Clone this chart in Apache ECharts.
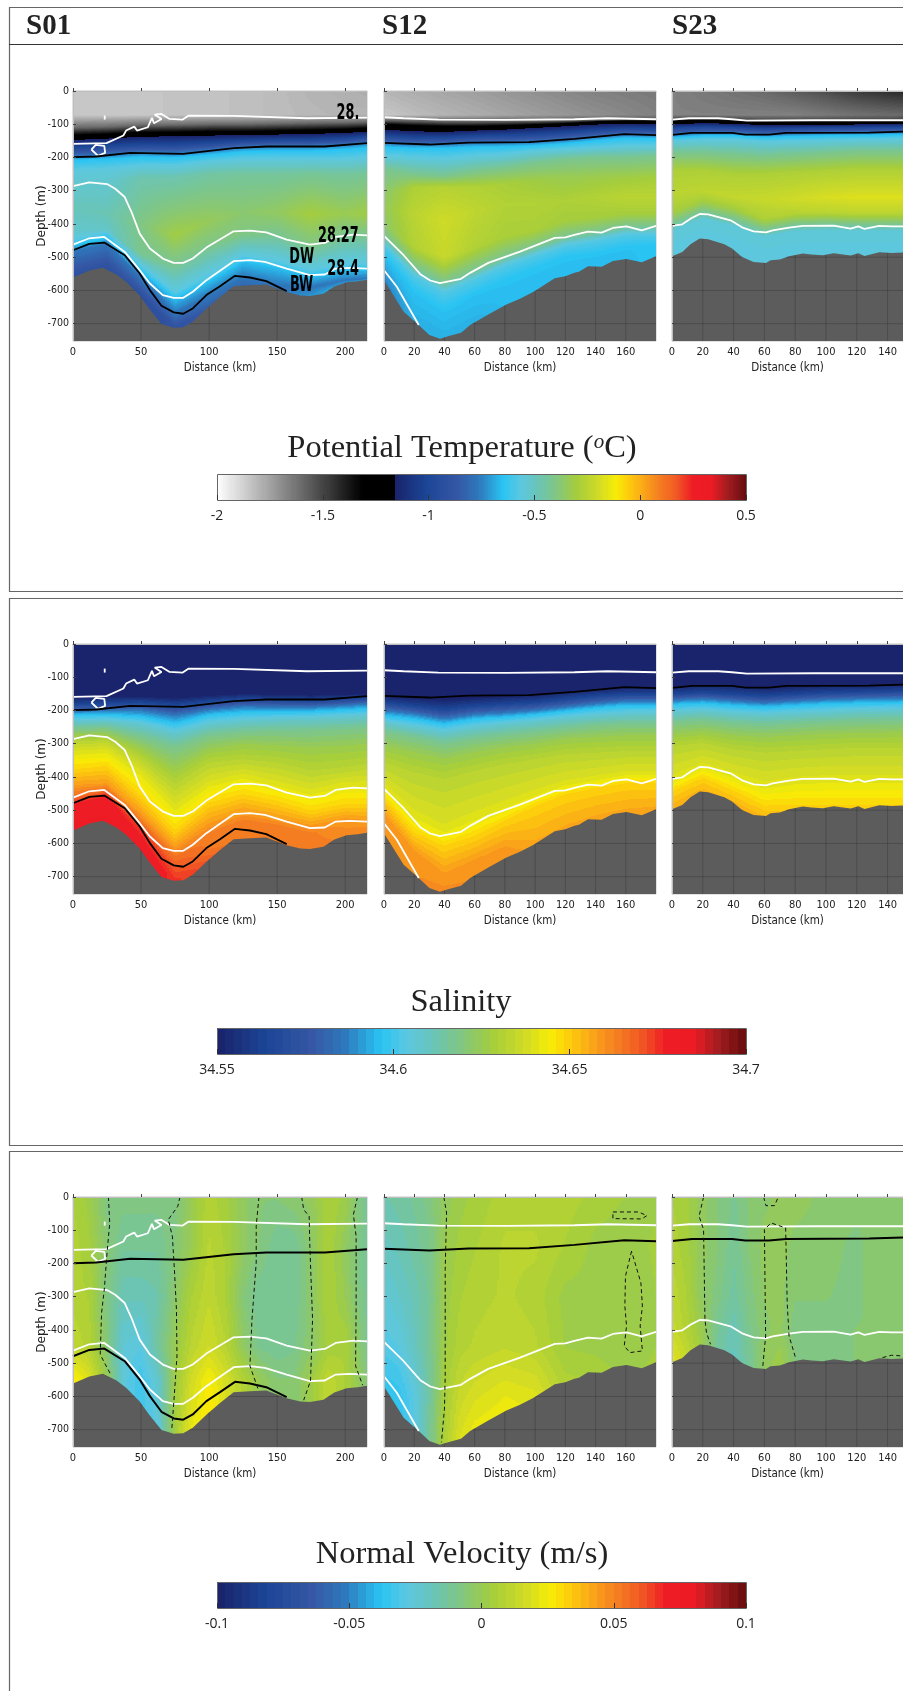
<!DOCTYPE html>
<html><head><meta charset="utf-8"><style>html,body{margin:0;padding:0;background:#fff}#c{width:903px;height:1691px}</style>
<script src="https://cdn.jsdelivr.net/npm/echarts@6/dist/echarts.min.js"></script></head><body><div id="c"></div>
<script>
// ---------- section names and axes ----------
const sectionNames=['S01','S12','S23'];
const S01_ticksX=[0,50,100,150,200];
const S12_ticksX=[0,20,40,60,80,100,120,140,160];
const S23_ticksX=[0,20,40,60,80,100,120,140];
const depthTicks=[0,-100,-200,-300,-400,-500,-600,-700];
const tempTicks=[-2,-1.5,-1,-0.5,0,0.5];
const salTicks=[34.55,34.6,34.65,34.7];
const velTicks=[-0.1,-0.05,0,0.05,0.1];

// ---------- sea floor (km, depth) ----------
const S01_bathy=[[0,-561],[12,-540],[22,-532],[32,-552],[39,-574],[49,-615],[56,-655],[65,-701],[74,-712],[81,-711],[88,-694],[98,-655],[108,-620],[118,-587],[130,-584],[142,-582],[157,-605],[167,-615],[174,-617],[184,-610],[192,-588],[201,-575],[209,-572],[216,-568]];
const S12_bathy=[[0,-569],[13,-664],[23,-704],[30,-734],[37,-745],[43,-737],[51,-727],[57,-704],[69,-672],[81,-642],[90,-625],[99,-604],[113,-563],[120,-557],[126,-547],[129,-544],[135,-527],[144,-529],[151.5,-511],[160.5,-505],[170.6,-515],[180,-497]];
const S23_bathy=[[0,-497],[6.7,-484],[12,-461],[18,-444],[23.5,-446],[34,-461],[39,-474],[45.5,-499],[53,-514],[61,-517],[64,-509],[70,-507],[76,-497],[85,-489],[90.5,-492],[98,-494],[105,-488],[116,-495],[121,-488],[125,-496],[134.6,-485],[142.6,-487],[150,-486]];

// ---------- density contours (km, depth) ----------
const S01_white=[
 [[0,-159],[24.6,-157],[37,-134],[39,-119],[45,-107],[47,-119],[55,-109],[58,-81],[59.5,-97],[65,-84],[60,-71],[65,-69],[71,-84],[80.6,-86],[85,-74],[118,-75],[172,-82],[216,-80]],
 [[13.5,-176],[16.7,-162],[23,-165],[23.6,-186],[18.4,-195],[13.5,-176]],
 [[23.3,-74],[23.3,-86]],
 [[0,-286],[12,-275],[25,-280],[31,-294],[38,-319],[43,-364],[49,-429],[56.5,-474],[66,-504],[74,-517],[81,-517],[88,-504],[98,-471],[118,-422],[130,-420],[142,-425],[157,-447],[174,-462],[185,-457],[193,-439],[206,-432],[216,-434]],
 [[0,-462],[12,-443],[23,-439],[38,-484],[49,-539],[56.5,-579],[66,-614],[74,-622],[81,-622],[88,-604],[98,-569],[118,-512],[130,-509],[141,-514],[157,-534],[174,-554],[185,-552],[193,-534],[203,-532],[216,-534]]
];
const S01_black=[
 [[0,-199],[17,-197],[42,-186],[81,-189],[118,-172],[142,-167],[185,-167],[216,-157]],
 [[0,-479],[12,-460],[23,-456],[38,-494],[49,-549],[56.5,-599],[65,-646],[74,-666],[81,-670],[88,-654],[98,-614],[108,-587],[119,-556],[130,-561],[142,-572],[157,-602]]
];
const S12_white=[
 [[0,-79],[13,-82],[36,-86],[81,-87],[126,-85],[148,-82],[180,-85]],
 [[0,-436],[13,-494],[24,-551],[30.6,-570],[37,-578],[51,-565],[57,-547],[69,-517],[90,-483],[113,-442],[120,-440],[126,-433],[135,-423],[144,-426],[151.5,-412],[160.5,-407],[170.6,-419],[180,-406]],
 [[0,-539],[8.5,-589],[23,-704]]
];
const S12_black=[
 [[0,-156],[30,-161],[56,-155],[96,-154],[126,-144],[159,-130],[180,-133]]
];
const S23_white=[
 [[0,-86],[11,-82],[30,-82],[39,-85],[48.6,-89],[92.6,-88],[150,-88]],
 [[0,-406],[6.7,-401],[12,-384],[18,-370],[23.5,-371],[38,-389],[45.5,-410],[53,-422],[61,-425],[65.4,-419],[76,-411],[85,-406],[105,-405],[116,-414],[121,-407],[125,-415],[134.6,-406],[142.6,-407],[150,-407]]
];
const S23_black=[
 [[0,-132],[13,-126],[39,-126],[47.6,-131],[63,-131],[74,-126],[128,-125],[150,-122]]
];

// ---------- zero velocity contours (km, depth) ----------
const S01_zero=[
 [[26,0],[27,-78],[25,-168],[23,-278],[21,-348],[20,-473],[23,-498],[28,-536]],
 [[78.6,0],[77,-28],[70,-68],[73,-118],[74.5,-218],[76,-338],[76.4,-478],[74.4,-598],[72.5,-703]],
 [[136.6,0],[134.6,-88],[134.6,-198],[131.5,-368],[130,-508],[136,-578]],
 [[168,0],[169.5,-38],[173.5,-58],[174,-148],[176,-368],[174.5,-553],[169.5,-611]],
 [[209,0],[206,-53],[208,-118],[208,-338],[207.6,-508],[212.8,-566]]
];
const S12_zero=[
 [[39.6,0],[41.4,-48],[40.5,-218],[40.5,-538],[40,-638],[38,-738]],
 [[151.5,-45],[168.4,-45],[174,-56],[170.6,-66],[151.5,-65],[151.5,-45]],
 [[163.8,-163],[159.8,-238],[159.4,-328],[160.5,-388],[159,-448],[162.7,-468],[171,-463],[169.5,-388],[171,-328],[170,-258],[163.8,-163]]
];
const S23_zero=[
 [[20.5,0],[17.6,-58],[20.5,-98],[21.4,-368],[22.4,-408],[25,-443]],
 [[59.5,0],[61,-26],[66.6,-26],[69,0]],
 [[59,-508],[60.8,-418],[60,-98],[64.3,-78],[73.8,-93],[74.8,-318],[76,-418],[80.5,-488]],
 [[136.7,-483],[142.6,-476],[149,-478]]
];

// ---------- annotations (km, depth, text) ----------
const S01_notes=[[202,-68,'28.'],[195,-437,'28.27'],[168,-500,'DW'],[198.5,-537,'28.4'],[168,-585,'BW']];

// ---------- stations ----------
const S01_stations=[0,25,50,75,100,125,150,175,200,216];
const S12_stations=[0,20,40,60,80,100,120,140,160,180];
const S23_stations=[0,20,40,60,80,100,120,150];

// ---------- potential temperature: knot depth per station, and value at the knot ----------
const S01_T_depth=[
 [0,0,0,0,0,0,0,0,0,0],
 [-72,-72,-72,-72,-72,-72,-72,-72,-72,-72],
 [-110,-108,-103,-102,-100,-100,-98,-96,-95,-93],
 [-133,-130,-125,-124,-122,-122,-120,-118,-115,-112],
 [-146,-142,-136,-135,-133,-131,-130,-128,-125,-122],
 [-170,-165,-160,-160,-155,-150,-147,-147,-143,-137],
 [-197,-192,-185,-187,-179,-168,-165,-165,-161,-155],
 [-208,-204,-198,-200,-192,-182,-180,-180,-175,-170],
 [-240,-235,-225,-225,-212,-205,-205,-205,-205,-200],
 [-270,-270,-260,-260,-250,-250,-250,-250,-250,-250],
 [-350,-370,-400,-435,-390,-365,-365,-370,-370,-370],
 [-420,-420,-490,-530,-460,-430,-430,-465,-440,-440],
 [-447,-424,-525,-607,-555,-495,-512,-540,-520,-520],
 [-467,-444,-545,-627,-575,-515,-532,-560,-540,-540],
 [-482,-458,-560,-668,-615,-560,-585,-590,-570,-565],
 [-560,-535,-615,-712,-655,-585,-600,-617,-580,-568]
];
const S01_T_values=[
 [-1.85,-1.85,-1.85,-1.84,-1.84,-1.83,-1.82,-1.8,-1.79,-1.78],
 [-1.85,-1.85,-1.85,-1.84,-1.84,-1.83,-1.82,-1.81,-1.8,-1.8],
 -1.6,-1.31,-1.17,-1.0,-0.77,-0.65,-0.56,
 [-0.53,-0.53,-0.47,-0.47,-0.45,-0.44,-0.44,-0.43,-0.44,-0.43],
 [-0.49,-0.48,-0.40,-0.31,-0.34,-0.37,-0.35,-0.30,-0.33,-0.31],
 [-0.52,-0.52,-0.42,-0.43,-0.40,-0.40,-0.42,-0.40,-0.43,-0.43],
 -0.57,-0.66,-0.77,
 [-0.92,-0.92,-0.92,-0.9,-0.85,-0.82,-0.78,-0.72,-0.68,-0.68]
];
const S12_T_depth=[
 [0,0,0,0,0,0,0,0,0,0],
 [-72,-72,-72,-72,-72,-72,-72,-72,-72,-72],
 [-90,-92,-94,-94,-93,-92,-90,-88,-85,-86],
 [-100,-104,-106,-106,-104,-101,-98,-92,-90,-90],
 [-115,-120,-122,-118,-115,-110,-105,-100,-97,-97],
 [-135,-140,-140,-135,-133,-130,-125,-118,-113,-115],
 [-156,-160,-160,-155,-155,-153,-147,-138,-130,-133],
 [-168,-172,-172,-168,-167,-164,-158,-149,-141,-143],
 [-195,-200,-205,-195,-190,-180,-175,-170,-165,-165],
 [-235,-250,-255,-240,-230,-215,-205,-200,-200,-195],
 [-310,-290,-290,-290,-280,-270,-260,-260,-260,-260],
 [-350,-370,-390,-360,-340,-340,-330,-320,-320,-320],
 [-400,-470,-500,-470,-440,-420,-390,-380,-370,-370],
 [-436,-530,-578,-540,-500,-470,-440,-425,-407,-406],
 [-461,-555,-605,-565,-525,-495,-465,-450,-432,-431],
 [-490,-600,-660,-610,-570,-535,-500,-490,-470,-465],
 [-569,-695,-745,-700,-642,-600,-557,-528,-505,-497]
];
const S12_T_values=[
 [-1.80,-1.78,-1.76,-1.74,-1.72,-1.70,-1.68,-1.66,-1.65,-1.64],
 [-1.85,-1.82,-1.80,-1.78,-1.76,-1.74,-1.72,-1.70,-1.68,-1.66],
 -1.55,-1.31,-1.17,-1.0,-0.77,-0.65,-0.56,-0.42,
 [-0.36,-0.28,-0.26,-0.27,-0.29,-0.31,-0.33,-0.32,-0.31,-0.30],
 [-0.34,-0.25,-0.20,-0.24,-0.27,-0.27,-0.28,-0.27,-0.25,-0.25],
 [-0.36,-0.27,-0.22,-0.27,-0.29,-0.29,-0.30,-0.30,-0.30,-0.30],
 -0.42,-0.58,-0.65,
 [-0.75,-0.68,-0.68,-0.68,-0.66,-0.66,-0.66,-0.66,-0.66,-0.64]
];
const S23_T_depth=[
 [0,0,0,0,0,0,0,0],
 [-72,-72,-72,-72,-72,-72,-72,-72],
 [-86,-82,-85,-89,-88,-88,-88,-87],
 [-90,-88,-90,-93,-92,-92,-92,-90],
 [-100,-96,-98,-102,-102,-102,-100,-98],
 [-112,-108,-110,-114,-112,-110,-110,-108],
 [-132,-126,-126,-131,-128,-126,-125,-123],
 [-140,-134,-134,-139,-136,-134,-133,-131],
 [-150,-146,-146,-152,-150,-148,-146,-144],
 [-185,-185,-190,-195,-190,-185,-180,-180],
 [-240,-240,-250,-250,-245,-240,-235,-235],
 [-310,-300,-320,-325,-325,-320,-320,-320],
 [-366,-330,-353,-385,-368,-365,-368,-368],
 [-406,-370,-393,-425,-408,-405,-408,-408],
 [-421,-385,-408,-440,-423,-420,-423,-423],
 [-497,-444,-478,-517,-493,-492,-490,-486]
];
const S23_T_values=[
 [-1.66,-1.64,-1.62,-1.6,-1.56,-1.52,-1.47,-1.42],
 [-1.66,-1.66,-1.66,-1.66,-1.66,-1.64,-1.62,-1.6],
 -1.5,-1.31,-1.17,-1.0,-0.77,-0.65,-0.56,-0.42,-0.28,
 [-0.25,-0.24,-0.23,-0.22,-0.2,-0.18,-0.17,-0.17],
 [-0.3,-0.3,-0.3,-0.28,-0.26,-0.25,-0.25,-0.25],
 -0.45,-0.55,-0.56
];

// ---------- salinity ----------
const S01_S_depth=[
 [-160,-155,-155,-160,-153,-148,-150,-152,-150,-148],
 [-180,-178,-175,-183,-172,-165,-167,-170,-165,-162],
 [-203,-200,-200,-215,-198,-188,-190,-190,-185,-180],
 [-213,-212,-218,-238,-213,-205,-205,-203,-198,-195],
 [-232,-230,-240,-268,-240,-230,-225,-223,-218,-215],
 [-255,-252,-280,-310,-275,-265,-262,-260,-255,-250],
 [-272,-272,-310,-370,-315,-300,-305,-310,-305,-300],
 [-295,-290,-345,-425,-360,-350,-360,-385,-375,-365],
 [-325,-320,-385,-490,-420,-395,-420,-445,-420,-420],
 [-380,-370,-460,-565,-480,-455,-475,-505,-485,-485],
 [-425,-420,-510,-610,-540,-505,-525,-545,-525,-530],
 [-462,-440,-540,-640,-570,-530,-545,-570,-550,-550],
 [-482,-458,-560,-680,-620,-585,-602,-617,-580,-568],
 [-560,-535,-620,-712,-655,-600,-605,-620,-590,-575]
];
const S01_S_values=[34.55,34.5635,34.586,34.5965,34.607,34.6175,34.625,34.6325,34.64,34.649,34.658,
 [34.667,34.667,34.667,34.665,34.663,34.663,34.663,34.663,34.660,34.660],
 [34.677,34.677,34.675,34.671,34.665,34.664,34.664,34.664,34.662,34.662],
 [34.683,34.683,34.682,34.675,34.67,34.665,34.665,34.664,34.662,34.662]];
const S12_S_depth=[
 [-156,-160,-165,-160,-155,-150,-140,-135,-128,-128],
 [-175,-185,-195,-185,-180,-175,-165,-155,-150,-150],
 [-200,-210,-225,-212,-207,-200,-190,-180,-172,-172],
 [-215,-225,-240,-225,-220,-212,-202,-192,-185,-185],
 [-235,-250,-265,-250,-240,-232,-222,-215,-210,-208],
 [-265,-280,-300,-285,-275,-265,-255,-245,-240,-240],
 [-305,-325,-345,-325,-310,-300,-285,-280,-275,-275],
 [-360,-390,-410,-385,-365,-350,-335,-330,-325,-325],
 [-425,-515,-560,-520,-485,-450,-420,-405,-390,-390],
 [-465,-570,-610,-580,-535,-490,-455,-435,-420,-420],
 [-510,-620,-690,-650,-610,-630,-580,-545,-525,-515],
 [-760,-760,-760,-760,-760,-760,-760,-760,-760,-760]
];
const S12_S_values=[34.55,34.5635,34.586,34.5965,34.607,34.6175,34.625,34.6325,34.64,34.649,34.658,34.662];
const S23_S_depth=[
 [-125,-118,-120,-130,-125,-122,-120,-118],
 [-150,-145,-150,-155,-150,-145,-143,-140],
 [-170,-165,-172,-178,-172,-168,-165,-163],
 [-182,-178,-185,-190,-185,-180,-178,-175],
 [-205,-200,-208,-212,-208,-205,-200,-198],
 [-235,-230,-240,-245,-240,-235,-232,-230],
 [-270,-262,-275,-280,-275,-270,-268,-265],
 [-310,-300,-320,-330,-325,-320,-315,-315],
 [-405,-365,-395,-425,-410,-405,-405,-405],
 [-445,-405,-445,-490,-490,-490,-490,-490],
 [-520,-470,-510,-550,-550,-550,-550,-550]
];
const S23_S_values=[34.55,34.5635,34.586,34.5965,34.607,34.6175,34.625,34.6325,34.64,34.649,34.658];

// ---------- normal velocity ----------
const S01_V_stations=[0,12,25,37,50,62,75,87,100,112,125,137,150,162,175,187,200,216];
const S01_V_depth=[0,-150,-300,-450,-550,-700];
const S01_V_values=[
 [.006,.002,-.008,-.008,-.008,-.008,-.008,0,.008,.004,-.002,-.006,-.006,-.004,-.002,.006,.002,-.012],
 [.008,.004,-.005,-.012,-.012,-.012,-.006,0,.01,.006,-.002,-.006,-.012,-.012,-.004,.006,-.002,-.012],
 [.008,.006,-.008,-.018,-.018,-.016,-.004,.006,.012,.006,-.006,-.012,-.012,-.012,-.004,.006,0,-.012],
 [.012,.008,-.006,-.025,-.028,-.014,0,.01,.016,.01,-.002,-.01,-.012,-.01,-.004,.004,.006,-.01],
 [.028,.02,0,-.026,-.034,-.024,.002,.016,.026,.018,.008,0,-.006,-.006,.002,.012,.006,-.006],
 [.03,.02,0,-.026,-.032,-.028,.004,.022,.03,.02,.01,0,-.006,-.006,.002,.012,.006,-.006]
];
const S12_V_stations=[0,10,20,30,40,50,60,80,100,120,140,160,170,180];
const S12_V_depth=[0,-150,-300,-450,-600,-750];
const S12_V_values=[
 [-.016,-.014,-.012,-.008,-.002,.002,.004,.008,.008,.008,.005,.003,.002,.002],
 [-.02,-.018,-.014,-.01,0,.004,.006,.01,.01,.006,.002,.001,.002,.004],
 [-.026,-.022,-.018,-.012,.001,.006,.008,.01,.008,.002,.002,.0,.001,.003],
 [-.03,-.028,-.02,-.012,.002,.008,.01,.012,.01,.003,.002,.0,.001,.003],
 [-.038,-.036,-.028,-.014,.004,.014,.018,.022,.02,.009,.008,.004,.005,.007],
 [-.038,-.038,-.03,-.012,.006,.02,.026,.028,.026,.012,.01,.006,.008,.01]
];
const S23_V_stations=[0,10,20,30,40,50,60,70,80,100,120,130,150];
const S23_V_depth=[0,-150,-300,-400,-500];
const S23_V_values=[
 [.006,.004,-.002,-.006,-.01,-.006,-.004,-.002,-.002,-.004,-.004,-.004,-.004],
 [.008,.004,-.002,-.006,-.012,-.006,-.002,-.002,-.004,-.004,-.008,-.004,-.004],
 [.012,.006,-.003,-.008,-.014,-.008,-.003,-.002,-.006,-.006,-.008,-.004,-.006],
 [.014,.008,0,-.012,-.018,-.01,-.004,-.002,-.008,-.008,-.006,-.006,-.006],
 [.022,.014,.002,-.014,-.02,-.012,-.002,.002,-.006,-.008,-.006,-.006,-.006]
];

// ---------- colour scale stops (position, colour) ----------
const rainbowPos=[0,.09,.18,.24,.31,.36,.40,.46,.52,.58,.63,.66,.70,.75,.80,.85,.90,.95,1];
const rainbowHex=['#1a2168','#1b4595','#3557a5','#2e77bb','#29c4f3','#5cc8e0','#66c5c0','#80c684','#a5cd3c','#cfdb27','#f7ec06','#fdd20a','#fbae17','#f58220','#f15a24','#ee1c25','#ed1c24','#a01c20','#650c0c'];

const hex2=h=>[1,3,5].map(i=>parseInt(h.substr(i,2),16));
const rainbowRgb=rainbowHex.map(hex2);
function rainbow(t){t=Math.max(0,Math.min(1,t));let k=0;while(k<rainbowPos.length-2&&t>rainbowPos[k+1])k++;
 const f=(t-rainbowPos[k])/(rainbowPos[k+1]-rainbowPos[k]),a=rainbowRgb[k],b=rainbowRgb[k+1];
 return 'rgb('+a.map((c,i)=>Math.round(c+(b[i]-c)*f)).join(',')+')';}
const scales={
 T:{min:-2,max:.5,bins:256,color:v=>{if(v<-1.315){const g=Math.round(255*(1-(v+2)/.685));return `rgb(${g},${g},${g})`;}if(v<-1.165)return '#000';return rainbow((v+1.165)/1.665);}},
 S:{min:34.55,max:34.7,bins:64,color:v=>rainbow((v-34.55)/.15)},
 V:{min:-.1,max:.1,bins:64,color:v=>rainbow((v+.1)/.2)}
};
const binOf=(s,v)=>Math.max(0,Math.min(s.bins-1,Math.floor((v-s.min)/(s.max-s.min)*s.bins)));
const binColor=(s,b)=>s.color(s.min+(b+.5)*(s.max-s.min)/s.bins);

// field series: each data item is the cell between two neighbouring stations
function fieldSeries(gi,stations,depth,values,sc){
 const colV=(r,c)=>Array.isArray(values[r])?values[r][c]:values[r];
 const colD=(r,c)=>Array.isArray(depth[r])?depth[r][c]:depth[r];
 const items=[];for(let i=0;i<stations.length-1;i++)items.push([stations[i],stations[i+1],i]);
 return {type:'custom',xAxisIndex:gi,yAxisIndex:gi,z:1,silent:true,clip:true,animation:false,data:items,encode:{x:[0,1]},
  renderItem(params,api){
   const i=api.value(2),cs=params.coordSys,top=Math.round(cs.y),bot=Math.round(cs.y+cs.height);
   const pa=Math.round(api.coord([api.value(0),0])[0]),pb=Math.round(api.coord([api.value(1),0])[0]);
   const n=depth.length,yL=[],yR=[];
   for(let r=0;r<n;r++){yL.push(api.coord([api.value(0),colD(r,i)])[1]);yR.push(api.coord([api.value(1),colD(r,i+1)])[1]);}
   const paths={};
   const add=(b,x,y0,y1)=>{paths[b]=(paths[b]||'')+`M${x} ${y0}h2v${y1-y0}h-2z`;};
   for(let px=pa;px<pb;px+=2){
    const f=(px+1-pa)/(pb-pa);
    let k=0,runB=-1,runS=top;
    for(let py=top;py<bot;py++){
     const yc=py+.5;
     while(k<n-1&&yc>yL[k+1]+(yR[k+1]-yL[k+1])*f)k++;
     const y0=yL[k]+(yR[k]-yL[k])*f,v0=colV(k,i)+(colV(k,i+1)-colV(k,i))*f;
     let v=v0;
     if(k<n-1&&yc>y0){const y1=yL[k+1]+(yR[k+1]-yL[k+1])*f,v1=colV(k+1,i)+(colV(k+1,i+1)-colV(k+1,i))*f;v=v0+(v1-v0)*(yc-y0)/Math.max(y1-y0,.01);}
     const b=binOf(sc,v);
     if(b!==runB){if(runB>=0)add(runB,px,runS,py);runB=b;runS=py;}
    }
    add(runB,px,runS,bot);
   }
   return {type:'group',children:Object.keys(paths).map(b=>({type:'path',shape:{pathData:paths[b]},style:{fill:binColor(sc,+b)},silent:true}))};
  }};
}
function seabedLines(gi,bathy,ticksX,ticksY){
 const at=x=>{for(let k=0;k<bathy.length-1;k++){if(x<=bathy[k+1][0]){const f=(x-bathy[k][0])/(bathy[k+1][0]-bathy[k][0]);return bathy[k][1]+(bathy[k+1][1]-bathy[k][1])*f;}}return bathy[bathy.length-1][1];};
 return {type:'custom',xAxisIndex:gi,yAxisIndex:gi,z:3,silent:true,clip:true,animation:false,data:[[0,0]],encode:{x:0,y:1},
  renderItem(params,api){
   let d='';const cs=params.coordSys,bot=cs.y+cs.height;
   ticksX.forEach(t=>{if(t>0){const p=api.coord([t,at(t)]);d+=`M${p[0]} ${p[1]}L${p[0]} ${bot}`;}});
   ticksY.forEach(dep=>{for(let k=0;k<bathy.length-1;k++){const a=bathy[k],b=bathy[k+1];
    const ia=a[1]>dep,ib=b[1]>dep;if(!ia&&!ib)continue;
    let x0=a[0],x1=b[0];if(!ia)x0=a[0]+(dep-a[1])/(b[1]-a[1])*(b[0]-a[0]);if(!ib)x1=a[0]+(dep-a[1])/(b[1]-a[1])*(b[0]-a[0]);
    const p=api.coord([x0,dep]),q=api.coord([x1,dep]);d+=`M${p[0]} ${p[1]}L${q[0]} ${q[1]}`;}});
   return {type:'path',shape:{pathData:d},style:{fill:null,stroke:'rgba(0,0,0,0.18)',lineWidth:1},silent:true};
  }};
}
const lineS=(gi,data,color,width,dash)=>({type:'line',xAxisIndex:gi,yAxisIndex:gi,data,z:4,silent:true,showSymbol:false,symbol:'none',animation:false,clip:true,
 lineStyle:{color,width,type:dash?[4,3]:'solid'}});

// ---------- layout ----------
const rowTops=[91,644,1197];
const plotHeight=250;
const depthMin=-752;
const colLeft=[73,384,672];
const colWidth=[294,272,242];
const colMax=[216,180,150];
const SEC=[
 {st:S01_stations,bathy:S01_bathy,white:S01_white,black:S01_black,zero:S01_zero,ticks:S01_ticksX,T:[S01_T_depth,S01_T_values],S:[S01_S_depth,S01_S_values],Vs:S01_V_stations,V:[S01_V_depth,S01_V_values]},
 {st:S12_stations,bathy:S12_bathy,white:S12_white,black:S12_black,zero:S12_zero,ticks:S12_ticksX,T:[S12_T_depth,S12_T_values],S:[S12_S_depth,S12_S_values],Vs:S12_V_stations,V:[S12_V_depth,S12_V_values]},
 {st:S23_stations,bathy:S23_bathy,white:S23_white,black:S23_black,zero:S23_zero,ticks:S23_ticksX,T:[S23_T_depth,S23_T_values],S:[S23_S_depth,S23_S_values],Vs:S23_V_stations,V:[S23_V_depth,S23_V_values]}
];
const NARROW='"DejaVu Sans Condensed",sans-serif';
const grid=[],xAxis=[],yAxis=[],series=[];
['T','S','V'].forEach((key,row)=>{SEC.forEach((sec,col)=>{
 const gi=grid.length;
 grid.push({left:colLeft[col],top:rowTops[row],width:colWidth[col],height:plotHeight,show:true,borderColor:'#c4c4c4',borderWidth:1,backgroundColor:'#fff'});
 xAxis.push({type:'value',gridIndex:gi,min:0,max:colMax[col],z:6,name:'Distance (km)',nameLocation:'middle',nameGap:21,nameMoveOverlap:false,
  nameTextStyle:{fontFamily:NARROW,fontSize:11.5,color:'#222'},
  axisLine:{show:true,lineStyle:{color:'#bdbdbd'}},splitLine:{show:false},
  axisTick:{show:true,inside:true,length:3,lineStyle:{color:'#444'},customValues:sec.ticks},
  axisLabel:{show:true,customValues:sec.ticks,fontFamily:NARROW,fontSize:11,color:'#222',margin:6,hideOverlap:false}});
 yAxis.push({type:'value',gridIndex:gi,min:depthMin,max:0,z:6,name:col===0?'Depth (m)':'',nameLocation:'middle',nameGap:25,nameMoveOverlap:false,
  nameTextStyle:{fontFamily:'"DejaVu Sans",sans-serif',fontSize:12,color:'#222'},
  axisLine:{show:true,lineStyle:{color:'#bdbdbd'}},splitLine:{show:false},
  axisTick:{show:true,inside:true,length:3,lineStyle:{color:'#444'},customValues:depthTicks},
  axisLabel:{show:col===0,customValues:depthTicks,fontFamily:NARROW,fontSize:10.5,color:'#222',margin:4}});
 const sc=scales[key];
 if(key==='V')series.push(fieldSeries(gi,sec.Vs,sec.V[0],sec.V[1],sc));
 else series.push(fieldSeries(gi,sec.st,sec[key][0],sec[key][1],sc));
 series.push({type:'line',xAxisIndex:gi,yAxisIndex:gi,data:sec.bathy,z:2,silent:true,showSymbol:false,symbol:'none',animation:false,
  lineStyle:{width:0},areaStyle:{color:'#5c5c5c',opacity:1,origin:'start'}});
 series.push(seabedLines(gi,sec.bathy,sec.ticks,[-500,-600,-700]));
 sec.white.forEach(l=>series.push(lineS(gi,l,'#fff',1.8)));
 sec.black.forEach(l=>series.push(lineS(gi,l,'#000',key==='V'?2:1.8)));
 if(key==='V')sec.zero.forEach(l=>series.push(lineS(gi,l,'#111',1,true)));
 if(key==='T'&&col===0)series.push({type:'custom',xAxisIndex:gi,yAxisIndex:gi,z:5,silent:true,animation:false,data:S01_notes,encode:{x:0,y:1},
  renderItem(params,api){const p=api.coord([api.value(0),api.value(1)]);
   return {type:'text',x:p[0],y:p[1],scaleX:.68,silent:true,style:{text:S01_notes[params.dataIndex][2],textAlign:'center',textVerticalAlign:'middle',fontFamily:NARROW,fontWeight:'bold',fontSize:21,fill:'#000'}};}});
});});
// colour bars
const barTops=[474,1028,1582],barTicks=[tempTicks,salTicks,velTicks],barKeys=['T','S','V'];
barKeys.forEach((key,b)=>{
 const gi=grid.length,sc=scales[key],items=[];
 grid.push({left:217,top:barTops[b],width:529,height:26,show:false});
 xAxis.push({type:'value',gridIndex:gi,min:sc.min,max:sc.max,z:6,axisLine:{show:false},splitLine:{show:false},
  axisTick:{show:true,inside:true,length:5,lineStyle:{color:'#333'},customValues:barTicks[b]},
  axisLabel:{show:true,customValues:barTicks[b],fontFamily:'"Open Sans",sans-serif',fontSize:14,color:'#222',margin:9,hideOverlap:false}});
 yAxis.push({type:'value',gridIndex:gi,min:0,max:1,show:false});
 for(let i=0;i<sc.bins;i++)items.push([sc.min+i*(sc.max-sc.min)/sc.bins,sc.min+(i+1)*(sc.max-sc.min)/sc.bins,i]);
 series.push({type:'custom',xAxisIndex:gi,yAxisIndex:gi,z:1,silent:true,animation:false,clip:false,data:items,encode:{x:[0,1]},
  renderItem(params,api){
   const a=api.coord([api.value(0),0]),c=api.coord([api.value(1),1]);
   const x0=Math.round(a[0]),x1=Math.round(c[0]),y0=Math.round(c[1]),y1=Math.round(a[1]);
   return {type:'rect',shape:{x:x0,y:y0,width:x1-x0,height:y1-y0},style:{fill:binColor(sc,api.value(2))},silent:true};
  }});
 series.push({type:'custom',xAxisIndex:gi,yAxisIndex:gi,z:2,silent:true,animation:false,clip:false,data:[[sc.min,0]],encode:{x:0,y:1},
  renderItem(params,api){const cs=params.coordSys;
   return {type:'rect',shape:{x:cs.x+.5,y:cs.y+.5,width:cs.width,height:cs.height},style:{fill:null,stroke:'#666',lineWidth:1},silent:true};}});
});

const SERIF='"Liberation Serif","DejaVu Serif",serif';
const title=[
 ...sectionNames.map((t,i)=>({text:t,left:[21,377,667][i],top:7,textStyle:{fontFamily:SERIF,fontWeight:'bold',fontSize:29,color:'#222'}})),
 {text:'Potential Temperature ({sup|o}C)',left:457,top:427,textAlign:'center',textStyle:{fontFamily:SERIF,fontWeight:'normal',fontSize:32.5,color:'#222',rich:{sup:{fontFamily:SERIF,fontStyle:'italic',fontSize:21,color:'#222',padding:[0,0,12,0]}}}},
 {text:'Salinity',left:456,top:981,textAlign:'center',textStyle:{fontFamily:SERIF,fontWeight:'normal',fontSize:32.5,color:'#222'}},
 {text:'Normal Velocity (m/s)',left:457,top:1533,textAlign:'center',textStyle:{fontFamily:SERIF,fontWeight:'normal',fontSize:32.5,color:'#222'}}
];
const frame=(y,h,c)=>({type:'rect',silent:true,z:0,shape:{x:9.5,y,width:930,height:h},style:{fill:null,stroke:c||'#666',lineWidth:1.2}});
const graphic=[frame(7.5,584),frame(598.5,547),frame(1151.5,600),
 {type:'line',silent:true,shape:{x1:9,y1:44.5,x2:903,y2:44.5},style:{stroke:'#333',lineWidth:1.2}}];

const chart=echarts.init(document.getElementById('c'),null,{renderer:'canvas',width:903,height:1691});
chart.setOption({animation:false,backgroundColor:'#fff',title,graphic,grid,xAxis,yAxis,series,tooltip:{show:false}});
</script></body></html>
